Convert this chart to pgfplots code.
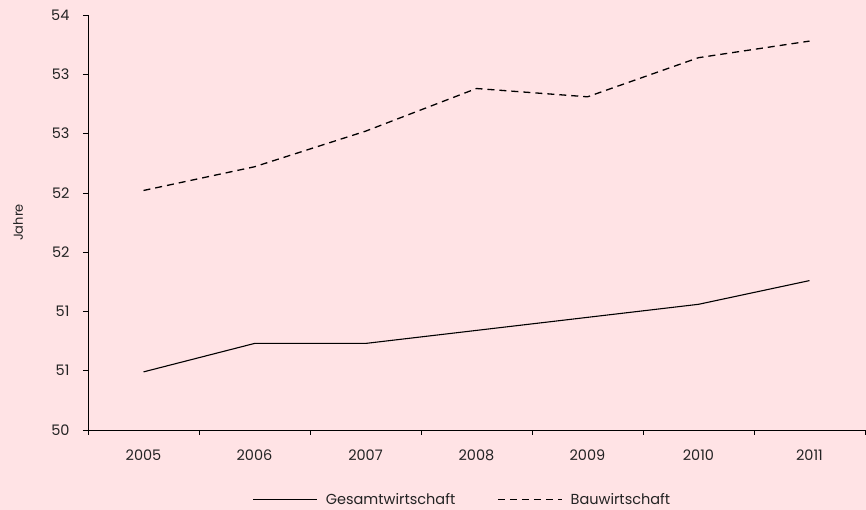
\documentclass[border=0pt]{standalone}
\usepackage{pgfplots}
\pgfplotsset{compat=1.18}
\usepackage{fontspec}
\setmainfont{Poppins}
\definecolor{bgpink}{RGB}{255,227,229}
\definecolor{txt}{RGB}{35,35,35}
\begin{document}
\begin{tikzpicture}[x=1pt,y=1pt]
\fill[bgpink] (0,0) rectangle (866,510);
\begin{axis}[
  at={(88pt,80pt)}, anchor=south west,
  scale only axis, width=777pt, height=415pt,
  xmin=-0.5, xmax=6.5, ymin=50, ymax=53.5,
  axis x line*=bottom, axis y line*=left,
  axis line style={black, line width=0.9pt},
  xtick={0,1,2,3,4,5,6},
  xticklabels={2005,2006,2007,2008,2009,2010,2011},
  minor xtick={-0.5,0.5,1.5,2.5,3.5,4.5,5.5,6.5},
  major x tick style={draw=none},
  minor x tick style={black, line width=0.6pt},
  minor tick length=5pt,
  ytick={50,50.5,51,51.5,52,52.5,53,53.5},
  yticklabels={50,51,51,52,52,53,53,54},
  tick align=outside, major tick length=5pt,
  y tick style={black, line width=0.6pt},
  tick label style={font=\fontsize{14.5}{16}\selectfont, text=txt},
  xticklabel style={yshift=-11pt},
  yticklabel style={xshift=-10pt},
  ylabel={Jahre},
  every axis y label/.style={at={(-70pt,0.5)}, rotate=90, anchor=center,
    font=\fontsize{13}{15}\selectfont, text=txt},
  legend style={at={(0.5,-80pt)}, xshift=-14pt, anchor=south, draw=none, fill=none,
    legend columns=2, font=\fontsize{14.5}{16}\selectfont, text=txt,
    /tikz/every even column/.style={column sep=40pt}},
  legend image code/.code={\draw[#1] (0pt,0pt) -- (64pt,0pt); \path (70pt,0pt);},
  clip=false,
]
\addplot[black, line width=1.1pt] coordinates {
 (0,50.49) (1,50.73) (2,50.73) (3,50.84) (4,50.95) (5,51.06) (6,51.26)};
\addlegendentry{Gesamtwirtschaft}
\addplot[black, line width=1.3pt, dash pattern=on 7pt off 5pt] coordinates {
 (0,52.02) (1,52.22) (2,52.52) (3,52.88) (4,52.81) (5,53.14) (6,53.28)};
\addlegendentry{Bauwirtschaft}
\end{axis}
\end{tikzpicture}
\end{document}
